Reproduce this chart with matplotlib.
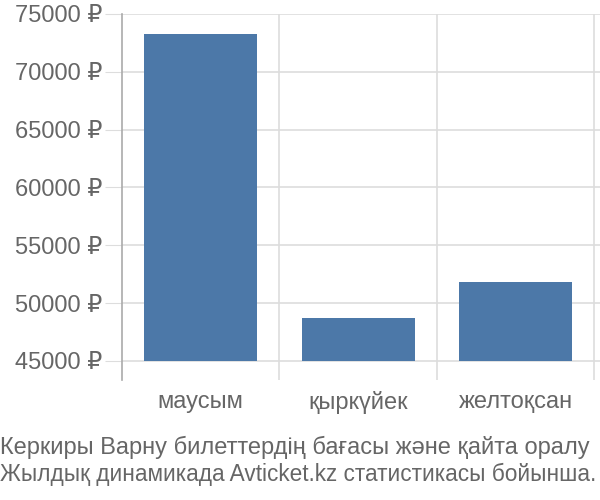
import matplotlib
matplotlib.use('Agg')
from matplotlib import pyplot as plt

months = ['маусым', 'қыркүйек', 'желтоқсан']
prices = [73300, 48700, 51800]
y_ticks = [45000, 50000, 55000, 60000, 65000, 70000, 75000]
y_labels = [f'{v} ₽' for v in y_ticks]
caption = ['Керкиры Варну билеттердің бағасы және қайта оралу',
           'Жылдық динамикада Avticket.kz статистикасы бойынша.']

plt.rcParams['font.family'] = ['Liberation Sans', 'DejaVu Sans']
text_col = '#666666'
grid_col = '#dddddd'

fig = plt.figure(figsize=(6, 5), dpi=100)
ax = fig.add_axes([122 / 600, 1 - 380 / 500, 478 / 600, 366 / 500])

x = range(len(months))
base = y_ticks[0]
ax.bar(x, [p - base for p in prices], bottom=base, width=0.72,
       color='#4c78a8', zorder=3)

ax.set_xlim(-0.5, 2.535)
ax.set_ylim(43357, 75000)

ax.set_yticks(y_ticks)
ax.set_yticklabels(y_labels)
ax.set_xticks(list(x))
ax.set_xticklabels(months)

ax.tick_params(axis='y', length=12, color=grid_col, labelsize=17,
               labelcolor=text_col, pad=2)
ax.tick_params(axis='x', length=0, labelsize=17, labelcolor=text_col, pad=8)

ax.grid(axis='y', color=grid_col, linewidth=1.2, zorder=0)
for b in [0.5, 1.5, 2.5]:
    ax.axvline(b, color=grid_col, linewidth=1.2, zorder=0)

for s in ['top', 'right', 'bottom']:
    ax.spines[s].set_visible(False)
ax.spines['left'].set_color('#aaaaaa')
ax.spines['left'].set_linewidth(1.2)

# caption lines: shrink each one so it fits the width like the squeezed original
renderer = fig.canvas.get_renderer()
for line, ypix in zip(caption, [447, 474]):
    t = fig.text(0.0, 1 - ypix / 500, line, fontsize=17, color=text_col,
                 va='center', ha='left')
    w = t.get_window_extent(renderer).width
    if w > 596:
        t.set_fontsize(17 * 596 / w)

plt.savefig('out.png', dpi=100)
plt.close()
